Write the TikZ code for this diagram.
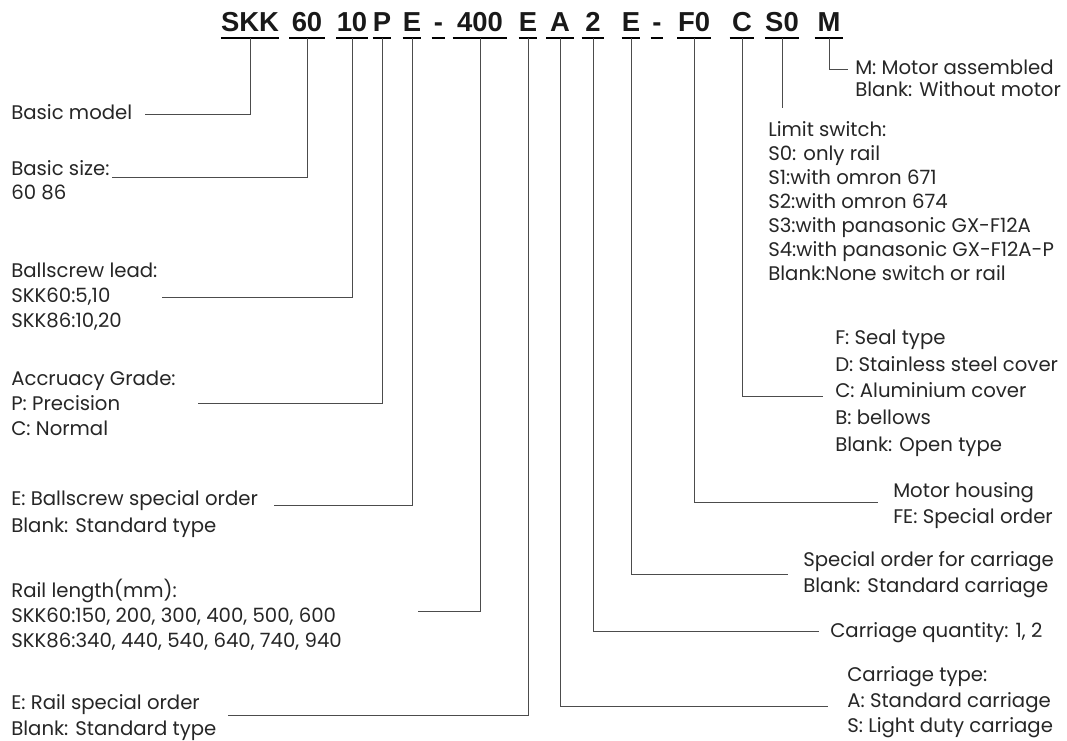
\documentclass[tikz,border=0pt]{standalone}
\usepackage{fontspec}
\setmainfont{Poppins}
\newfontfamily\codefont{Liberation Sans}
\usetikzlibrary{positioning}

\tikzset{
  code/.style={font=\codefont\bfseries\fontsize{19.5}{20}\selectfont, text=black!90,
    anchor=base, inner xsep=0pt, inner ysep=0.15cm, text depth=0pt,
    minimum width=#1*0.025cm,
    append after command={(\tikzlastnode.south west) edge[uline] (\tikzlastnode.south east)}},
  uline/.style={line width=1.6pt, black},
  lbl/.style={font=\fontsize{14}{#1}\selectfont, align=left, anchor=north west,
    inner sep=0pt, text=black!85},
  lbl/.default=18,
  leader/.style={line width=0.7pt, black!70},
}

\begin{document}
\begin{tikzpicture}[x=0.025cm, y=-0.025cm]
 \useasboundingbox (0,0) rectangle (1067,741);

 % order code
 \node[code=57] (skk) at (250,32) {SKK};
 \node[code=35] (sixty) at (307,32) {60};
 \node[code=27] (ten) at (352,32) {10};
 \node[code=18] (p) at (382,32) {P};
 \node[code=16] (e1) at (412,32) {E};
 \node[code=13] (dash1) at (438.5,32) {-};
 \node[code=54] (fourhundred) at (480,32) {400};
 \node[code=15] (e2) at (528,32) {E};
 \node[code=27] (a) at (560,32) {A};
 \node[code=22] (two) at (593,32) {2};
 \node[code=17] (e3) at (631,32) {E};
 \node[code=12] (dash2) at (657,32) {-};
 \node[code=33] (fzero) at (694,32) {F0};
 \node[code=24] (c) at (742,32) {C};
 \node[code=28] (szero) at (782,32) {S0};
 \node[code=28] (m) at (829,32) {M};

 % left column
 \node[lbl] (basic) at (11,104.5) {Basic model};
 \node[lbl=17] (size) at (11,160.5) {Basic size:\\60 86};
 \node[lbl] (lead) at (11,262.5) {Ballscrew lead:\\SKK60:5,10\\SKK86:10,20};
 \node[lbl] (grade) at (11,370.5) {Accruacy Grade:\\P: Precision\\C: Normal};
 \node[lbl=19] (bse) at (11,490.5) {E: Ballscrew special order\\Blank: Standard type};
 \node[lbl] (rail) at (11,578.5) {Rail length(mm):\\SKK60:150, 200, 300, 400, 500, 600\\SKK86:340, 440, 540, 640, 740, 940};
 \node[lbl] (rse) at (11,694.5) {E: Rail special order\\Blank: Standard type};

 % right column
 \node[lbl=15.6] (motor) at (855,59.5) {M: Motor assembled\\Blank: Without motor};
 \node[lbl=17] (limit) at (768,121.5) {Limit switch:\\S0: only rail\\S1:with omron 671\\S2:with omron 674\\S3:with panasonic GX-F12A\\S4:with panasonic GX-F12A-P\\Blank:None switch or rail};
 \node[lbl=19] (cover) at (835,329.5) {F: Seal type\\D: Stainless steel cover\\C: Aluminium cover\\B: bellows\\Blank: Open type};
 \node[lbl] (housing) at (893,482.5) {Motor housing\\FE: Special order};
 \node[lbl] (carrse) at (803,551.5) {Special order for carriage\\Blank: Standard carriage};
 \node[lbl] (qty) at (830,622.5) {Carriage quantity: 1, 2};
 \node[lbl] (ctype) at (847,666.5) {Carriage type:\\A: Standard carriage\\S: Light duty carriage};

 % leader ends
 \coordinate (basic-end) at (145,114);
 \coordinate (size-end) at (112,177);
 \coordinate (lead-end) at (162,297);
 \coordinate (grade-end) at (198,403);
 \coordinate (bse-end) at (274,505);
 \coordinate (rail-end) at (418,611);
 \coordinate (rse-end) at (228,715);
 \coordinate (motor-end) at (848,69);
 \coordinate (limit-end) at (szero.south |- 0,108);
 \coordinate (cover-end) at (823,396);
 \coordinate (housing-end) at (878,502);
 \coordinate (carrse-end) at (788,574);
 \coordinate (qty-end) at (819,631);
 \coordinate (ctype-end) at (828,706);

 \draw[leader] (skk.south) |- (basic-end);
 \draw[leader] (sixty.south) |- (size-end);
 \draw[leader] (ten.south) |- (lead-end);
 \draw[leader] (p.south) |- (grade-end);
 \draw[leader] (e1.south) |- (bse-end);
 \draw[leader] (fourhundred.south) |- (rail-end);
 \draw[leader] (e2.south) |- (rse-end);
 \draw[leader] (m.south) |- (motor-end);
 \draw[leader] (szero.south) -- (limit-end);
 \draw[leader] (c.south) |- (cover-end);
 \draw[leader] (fzero.south) |- (housing-end);
 \draw[leader] (e3.south) |- (carrse-end);
 \draw[leader] (two.south) |- (qty-end);
 \draw[leader] (a.south) |- (ctype-end);
\end{tikzpicture}
\end{document}
